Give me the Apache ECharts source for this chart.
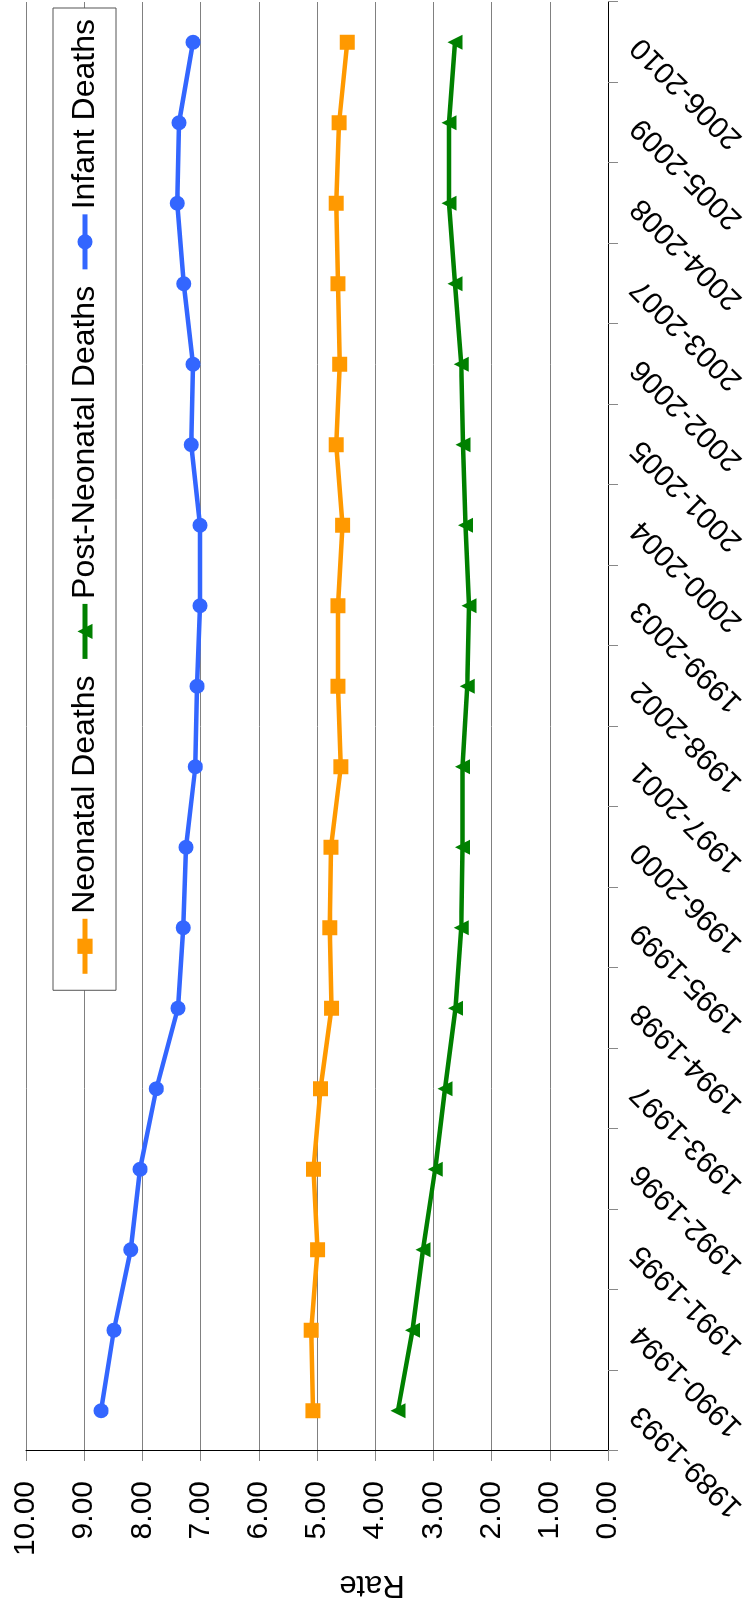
<!DOCTYPE html>
<html>
<head>
<meta charset="utf-8">
<script src="https://cdn.jsdelivr.net/npm/echarts@6/dist/echarts.min.js"></script>
<style>
  html, body { margin: 0; padding: 0; width: 756px; height: 1608px; overflow: hidden; background: #fff; }
  #chart {
    position: absolute; left: 0; top: 0;
    width: 1608px; height: 756px;
    transform-origin: 0 0;
    transform: translateY(1608px) rotate(-90deg);
  }
</style>
</head>
<body>
<div id="chart"></div>
<script>
const categories = ['1989-1993','1990-1994','1991-1995','1992-1996','1993-1997','1994-1998','1995-1999','1996-2000','1997-2001','1998-2002','1999-2003','2000-2004','2001-2005','2002-2006','2003-2007','2004-2008','2005-2009','2006-2010'];
const neonatalDeaths = [5.07, 5.10, 4.99, 5.06, 4.94, 4.75, 4.78, 4.76, 4.59, 4.64, 4.64, 4.56, 4.67, 4.61, 4.64, 4.67, 4.62, 4.48];
const postNeonatalDeaths = [3.61, 3.36, 3.18, 2.97, 2.80, 2.62, 2.52, 2.50, 2.50, 2.42, 2.39, 2.45, 2.49, 2.52, 2.63, 2.73, 2.73, 2.63];
const infantDeaths = [8.71, 8.49, 8.20, 8.04, 7.76, 7.39, 7.30, 7.25, 7.09, 7.06, 7.01, 7.01, 7.16, 7.13, 7.29, 7.40, 7.37, 7.13];
const seriesNames = ['Neonatal Deaths', 'Post-Neonatal Deaths', 'Infant Deaths'];
const axisName = 'Rate';

const FONT = 'Liberation Sans, Arial, Helvetica, sans-serif';
const chart = echarts.init(document.getElementById('chart'));
chart.setOption({
  animation: false,
  backgroundColor: '#ffffff',
  textStyle: { fontFamily: FONT },
  grid: { left: 157, right: 2, top: 26, bottom: 148, containLabel: false },
  legend: {
    data: seriesNames,
    right: 8, top: 53, width: 1300,
    orient: 'horizontal',
    itemWidth: 55, itemHeight: 19, itemGap: 14,
    padding: [16, 11, 15, 14],
    borderColor: '#555', borderWidth: 1,
    backgroundColor: '#ffffff',
    lineStyle: { width: 5 },
    textStyle: { fontSize: 32, color: '#000', fontFamily: FONT }
  },
  xAxis: {
    type: 'category',
    data: categories,
    boundaryGap: true,
    axisLine: { show: true, lineStyle: { color: '#000', width: 1 } },
    axisTick: { show: true, length: 10, interval: 0, lineStyle: { color: '#888' } },
    axisLabel: { interval: 0, rotate: 45, fontSize: 30, color: '#000', margin: 28, fontFamily: FONT },
    splitLine: { show: false }
  },
  yAxis: {
    type: 'value',
    min: 0, max: 10, interval: 1,
    name: axisName,
    nameLocation: 'middle',
    nameRotate: 90,
    nameGap: 118,
    nameTextStyle: { fontSize: 31, color: '#000', fontFamily: FONT, padding: [0, 110, 0, 0] },
    axisLine: { show: true, lineStyle: { color: '#000', width: 1 } },
    axisTick: { show: true, length: 10, lineStyle: { color: '#888' } },
    axisLabel: { fontSize: 30, color: '#000', margin: 30, fontFamily: FONT, formatter: v => v.toFixed(2) },
    splitLine: { show: true, lineStyle: { color: '#808080', width: 1 } }
  },
  series: [
    {
      name: seriesNames[0], type: 'line', data: neonatalDeaths,
      symbol: 'rect', symbolSize: 15,
      lineStyle: { color: '#FF9900', width: 4.5 },
      itemStyle: { color: '#FF9900' }
    },
    {
      name: seriesNames[1], type: 'line', data: postNeonatalDeaths,
      symbol: 'triangle', symbolSize: 15,
      lineStyle: { color: '#008000', width: 4.5 },
      itemStyle: { color: '#008000' }
    },
    {
      name: seriesNames[2], type: 'line', data: infantDeaths,
      symbol: 'circle', symbolSize: 15,
      lineStyle: { color: '#3366FF', width: 4.5 },
      itemStyle: { color: '#3366FF' }
    }
  ]
});
</script>
</body>
</html>
